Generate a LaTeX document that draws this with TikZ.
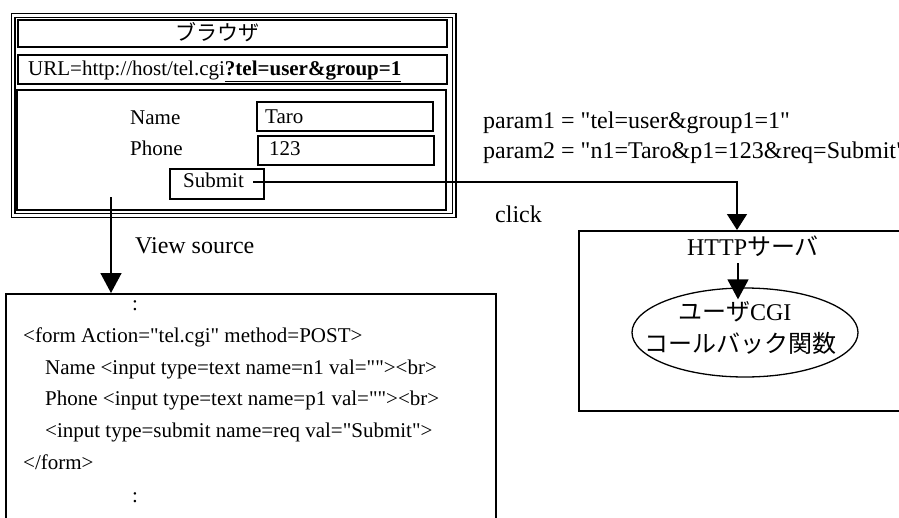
\documentclass[tikz,border=0pt]{standalone}
\usepackage{fontspec}
\setmainfont{Liberation Serif}[Ligatures=TeXOff]
\newfontfamily\jp{Noto Sans CJK JP}
\usetikzlibrary{arrows.meta,shapes.geometric}

\tikzset{
  txt/.style={inner sep=0pt, font=\fontsize{21pt}{25pt}\selectfont},
  bigtxt/.style={inner sep=0pt, font=\fontsize{24pt}{28pt}\selectfont},
  box/.style={draw, line width=1.5pt, inner sep=0pt, anchor=north west},
  thickbox/.style={box, line width=1.9pt},
  arr/.style={line width=1.5pt, -{Triangle[width=20pt,length=16pt]}},
  bigarr/.style={line width=1.5pt, -{Triangle[width=21pt,length=20pt]}},
}

\begin{document}
\begin{tikzpicture}[x=1pt,y=-1pt]
\useasboundingbox (0,0) rectangle (899,517);
\clip (0,0) rectangle (899,517);

% ---- browser window ----
\node[draw, line width=1.2pt, double, double distance=2.6pt, inner sep=0pt,
      minimum width=441pt, minimum height=200pt, anchor=north west] (browser) at (12.5,15) {};
\node[thickbox, minimum width=429pt, minimum height=27pt] (title) at (17,19) {};
\node[txt] (titletext) at (217.5,32.5) {\jp ブラウザ};
\node[thickbox, minimum width=429pt, minimum height=29pt] (url) at (17,54) {};
\node[txt, anchor=base west] (urltext) at (28,75)
  {URL=http://host/tel.cgi\underline{\textbf{?tel=user\&group=1}}};
\node[box, minimum width=429pt, minimum height=120pt] (form) at (16,89) {};

\node[txt, anchor=base west] (namelbl) at (130,124) {Name};
\node[txt, anchor=base west] (phonelbl) at (130,155) {Phone};
\node[thickbox, minimum width=176pt, minimum height=29pt] (namebox) at (256,101) {};
\node[txt, anchor=base west] (nameval) at (265,123) {Taro};
\node[thickbox, minimum width=176pt, minimum height=29pt] (phonebox) at (257,135) {};
\node[txt, anchor=base west] (phoneval) at (269,155) {123};
\node[box, minimum width=94pt, minimum height=30pt] (submit) at (169,168) {};
\node[txt, anchor=base west] (submittext) at (183,187) {Submit};

% ---- request parameters ----
\node[bigtxt, anchor=base west] (param1) at (483,128) {param1 = "tel=user\&group1=1"};
\node[bigtxt, anchor=base west] (param2) at (483,158) {param2 = "n1=Taro\&p1=123\&req=Submit"};
\node[bigtxt, anchor=base west] (click) at (495,222) {click};

% ---- HTTP server ----
\node[box, minimum width=340pt, minimum height=180pt] (server) at (578,230) {};
\node[bigtxt, anchor=base] (httplabel) at (753,255) {HTTP{\jp サーバ}};
\node[draw, ellipse, line width=1.3pt, minimum width=226pt, minimum height=89pt,
      inner sep=0pt] (cgi) at (745,332.5) {};
\node[bigtxt] (cgi1) at (735,312) {{\jp ユーザ}CGI};
\node[bigtxt] (cgi2) at (740,343) {\jp コールバック関数};

% ---- page source ----
\node[box, minimum width=490pt, minimum height=240pt] (source) at (5,293) {};
\node[txt, anchor=base west] (src0) at (132,310) {:};
\node[txt, anchor=base west] (src1) at (23,342) {<form Action="tel.cgi" method=POST>};
\node[txt, anchor=base west] (src2) at (45,374) {Name <input type=text name=n1 val=""><br>};
\node[txt, anchor=base west] (src3) at (45,405) {Phone <input type=text name=p1 val=""><br>};
\node[txt, anchor=base west] (src4) at (45,437) {<input type=submit name=req val="Submit">};
\node[txt, anchor=base west] (src5) at (23,469) {</form>};
\node[txt, anchor=base west] (src6) at (132,502) {:};
\node[bigtxt, anchor=base west] (viewsrc) at (135,253) {View source};

% ---- connectors ----
\coordinate (clickfrom) at (253,182);
\coordinate (clickto) at (737,230);
\draw[arr] (clickfrom) -| (clickto);

\coordinate (viewfrom) at (111,197);
\draw[bigarr] (viewfrom) -- (viewfrom |- source.north);

\coordinate (cgifrom) at (738,263);
\draw[bigarr] (cgifrom) -- ([yshift=-12pt]cgifrom |- cgi.north);
\end{tikzpicture}
\end{document}
